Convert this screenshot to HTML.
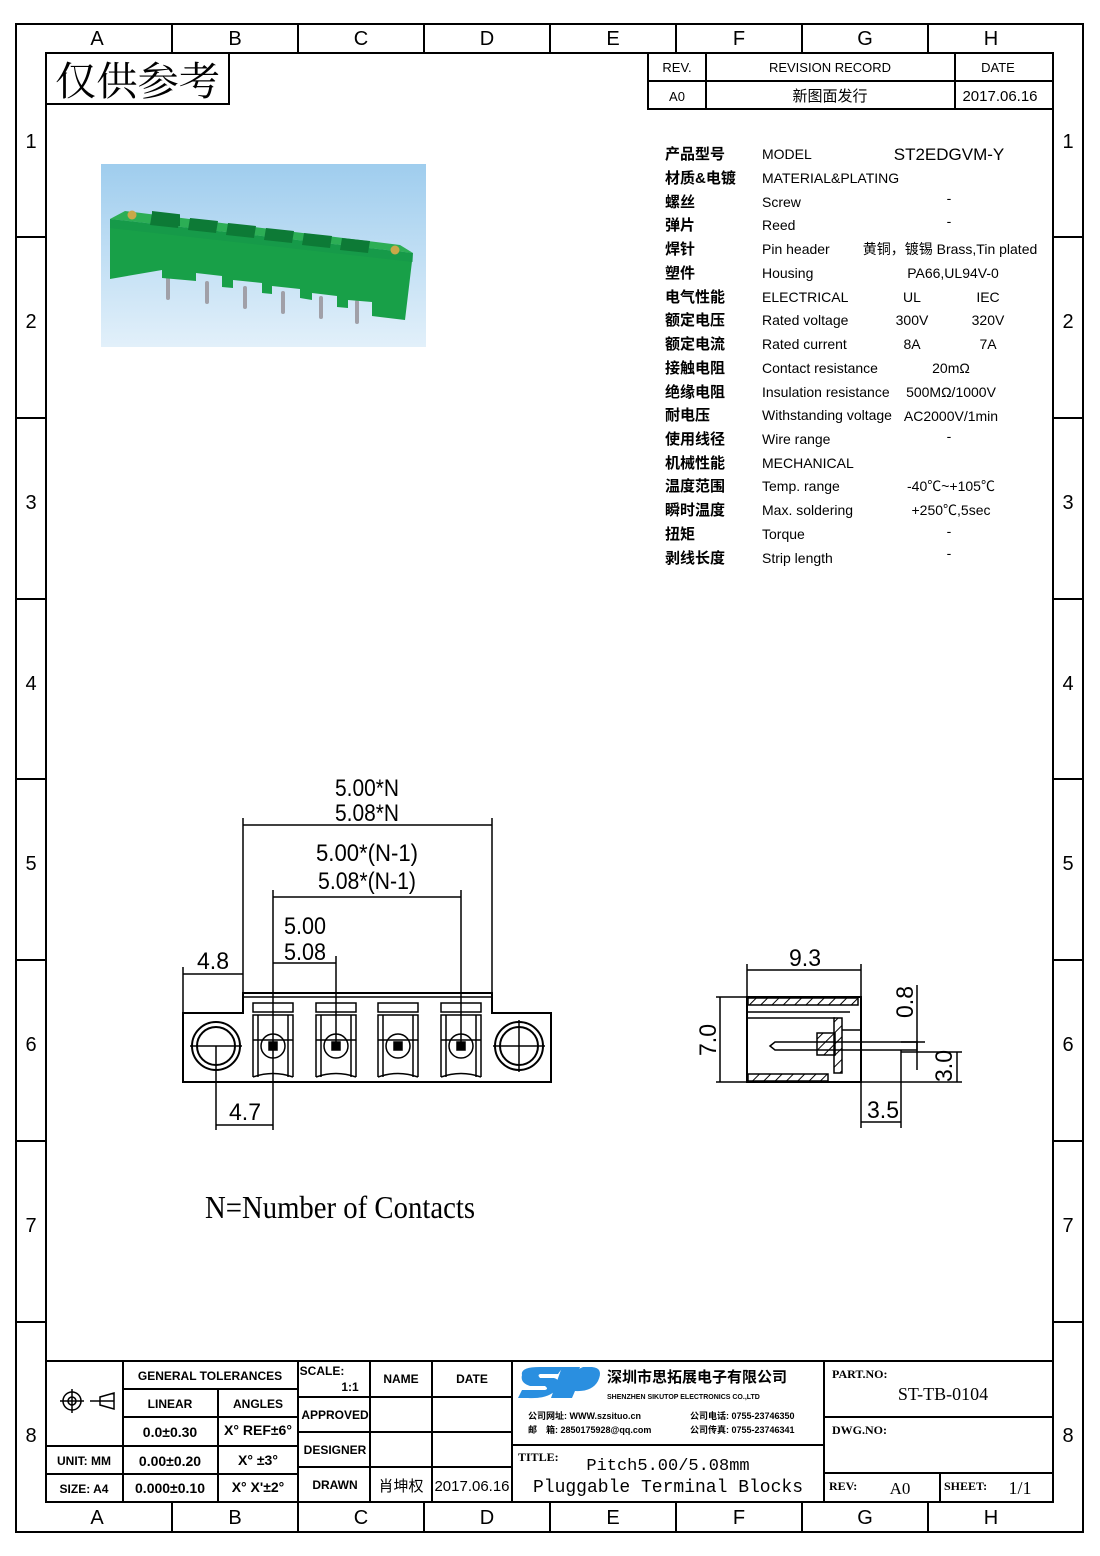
<!DOCTYPE html>
<html><head><meta charset="utf-8"><style>
html,body{margin:0;padding:0;background:#fff}
svg{display:block}
text{font-family:"Liberation Sans","Noto Sans CJK SC",sans-serif;fill:#000}
.m{font-family:"Liberation Mono","Noto Sans CJK SC",monospace}
.s{font-family:"Liberation Serif","Noto Serif CJK SC",serif}
</style></head><body>
<svg width="1100" height="1556" viewBox="0 0 1100 1556" xmlns="http://www.w3.org/2000/svg">
<defs>
<linearGradient id="bg" x1="0" y1="0" x2="0" y2="1"><stop offset="0" stop-color="#9fcdee"/><stop offset="1" stop-color="#e2f0fa"/></linearGradient>
<pattern id="hat" width="8" height="8" patternUnits="userSpaceOnUse" patternTransform="rotate(45)"><line x1="0" y1="0" x2="0" y2="8" stroke="#000" stroke-width="2"/></pattern>
</defs>
<g fill="none" stroke="#000" stroke-width="2">
<rect x="16" y="24" width="1067" height="1508"/>
<rect x="46" y="53" width="1007" height="1449"/>
</g>
<g stroke="#000" stroke-width="2">
<line x1="172" y1="24" x2="172" y2="53"/><line x1="298" y1="24" x2="298" y2="53"/><line x1="424" y1="24" x2="424" y2="53"/><line x1="550" y1="24" x2="550" y2="53"/><line x1="676" y1="24" x2="676" y2="53"/><line x1="802" y1="24" x2="802" y2="53"/><line x1="928" y1="24" x2="928" y2="53"/>
<line x1="172" y1="1502" x2="172" y2="1532"/><line x1="298" y1="1502" x2="298" y2="1532"/><line x1="424" y1="1502" x2="424" y2="1532"/><line x1="550" y1="1502" x2="550" y2="1532"/><line x1="676" y1="1502" x2="676" y2="1532"/><line x1="802" y1="1502" x2="802" y2="1532"/><line x1="928" y1="1502" x2="928" y2="1532"/>
<g id="rl"><line x1="16" y1="237" x2="46" y2="237"/><line x1="16" y1="418" x2="46" y2="418"/><line x1="16" y1="599" x2="46" y2="599"/><line x1="16" y1="779" x2="46" y2="779"/><line x1="16" y1="960" x2="46" y2="960"/><line x1="16" y1="1141" x2="46" y2="1141"/><line x1="16" y1="1322" x2="46" y2="1322"/></g>
<use href="#rl" x="1037"/>
</g>
<g font-size="20" text-anchor="middle">
<text x="97" y="45">A</text><text x="235" y="45">B</text><text x="361" y="45">C</text><text x="487" y="45">D</text><text x="613" y="45">E</text><text x="739" y="45">F</text><text x="865" y="45">G</text><text x="991" y="45">H</text>
<text x="97" y="1524">A</text><text x="235" y="1524">B</text><text x="361" y="1524">C</text><text x="487" y="1524">D</text><text x="613" y="1524">E</text><text x="739" y="1524">F</text><text x="865" y="1524">G</text><text x="991" y="1524">H</text>
<text x="31" y="148">1</text><text x="31" y="328">2</text><text x="31" y="509">3</text><text x="31" y="690">4</text><text x="31" y="870">5</text><text x="31" y="1051">6</text><text x="31" y="1232">7</text><text x="31" y="1442">8</text>
<text x="1068" y="148">1</text><text x="1068" y="328">2</text><text x="1068" y="509">3</text><text x="1068" y="690">4</text><text x="1068" y="870">5</text><text x="1068" y="1051">6</text><text x="1068" y="1232">7</text><text x="1068" y="1442">8</text>
</g>
<rect x="46" y="53" width="183" height="51" fill="none" stroke="#000" stroke-width="2"/>
<text x="55" y="95" font-size="40" class="s" textLength="165" lengthAdjust="spacingAndGlyphs">仅供参考</text>
<g fill="none" stroke="#000" stroke-width="2"><rect x="648" y="53" width="405" height="56"/><line x1="648" y1="81" x2="1053" y2="81"/><line x1="706" y1="53" x2="706" y2="109"/><line x1="955" y1="53" x2="955" y2="109"/></g>
<g font-size="13" text-anchor="middle" class="s"><text x="677" y="72">REV.</text><text x="830" y="72">REVISION RECORD</text><text x="998" y="72">DATE</text><text x="677" y="101">A0</text><text x="830" y="101" font-size="15">新图面发行</text><text x="1000" y="101" font-size="15">2017.06.16</text></g>
<!-- photo -->
<rect x="101" y="164" width="325" height="183" fill="url(#bg)"/>
<g stroke="#a0a0a8" stroke-width="4" stroke-linecap="round"><line x1="168" y1="278" x2="168" y2="298"/><line x1="207" y1="283" x2="207" y2="302"/><line x1="245" y1="288" x2="245" y2="307"/><line x1="283" y1="293" x2="283" y2="312"/><line x1="321" y1="298" x2="321" y2="317"/><line x1="357" y1="302" x2="357" y2="322"/></g>
<polygon points="125,211 400,245 413,253 110,219" fill="#2cae55"/>
<polygon points="110,219 413,253 405,320 372,316 372,302 348,300 348,308 337,307 337,296 312,293 312,300 300,298 300,289 272,286 272,294 262,293 262,283 233,280 233,288 222,287 222,276 196,273 196,281 185,280 162,278 162,270 110,279" fill="#18a048"/>
<polygon points="110,219 413,253 413,262 110,228" fill="#14934a" opacity="0.5"/>
<g fill="#0d7a36"><rect x="152" y="211" width="28" height="12" transform="skewY(6.5)" transform-origin="152 211"/></g>
<g fill="#0d7a36"><polygon points="152,213 180,216 178,228 150,225"/><polygon points="190,218 218,221 216,233 188,230"/><polygon points="228,223 256,226 254,238 226,235"/><polygon points="266,228 294,231 292,243 264,240"/><polygon points="304,233 332,236 330,248 302,245"/><polygon points="342,238 370,241 368,253 340,250"/></g>
<circle cx="132" cy="215" r="4.5" fill="#c9a848"/><circle cx="395" cy="250" r="4.5" fill="#c9a848"/>
<!-- spec table -->
<g font-size="15" class="s" font-weight="bold">
<g transform="translate(665,0)"><text y="159">产品型号</text><text y="183">材质&amp;电镀</text><text y="207">螺丝</text><text y="230">弹片</text><text y="254">焊针</text><text y="278">塑件</text><text y="302">电气性能</text><text y="325">额定电压</text><text y="349">额定电流</text><text y="373">接触电阻</text><text y="397">绝缘电阻</text><text y="420">耐电压</text><text y="444">使用线径</text><text y="468">机械性能</text><text y="491">温度范围</text><text y="515">瞬时温度</text><text y="539">扭矩</text><text y="563">剥线长度</text></g>
<g transform="translate(762,0)" font-size="14" font-weight="normal"><text y="159">MODEL</text><text y="183">MATERIAL&amp;PLATING</text><text y="207">Screw</text><text y="230">Reed</text><text y="254">Pin header</text><text y="278">Housing</text><text y="302">ELECTRICAL</text><text y="325">Rated voltage</text><text y="349">Rated current</text><text y="373">Contact resistance</text><text y="397">Insulation resistance</text><text y="420">Withstanding voltage</text><text y="444">Wire range</text><text y="468">MECHANICAL</text><text y="491">Temp. range</text><text y="515">Max. soldering</text><text y="539">Torque</text><text y="563">Strip length</text></g>
<g text-anchor="middle" font-size="14" font-weight="normal"><text x="949" y="160" font-size="17">ST2EDGVM-Y</text><text x="949" y="203">-</text><text x="949" y="226">-</text><text x="950" y="254">黄铜，镀锡 Brass,Tin plated</text><text x="953" y="278">PA66,UL94V-0</text><text x="912" y="302">UL</text><text x="988" y="302">IEC</text><text x="912" y="325">300V</text><text x="988" y="325">320V</text><text x="912" y="349">8A</text><text x="988" y="349">7A</text><text x="951" y="373">20mΩ</text><text x="951" y="397">500MΩ/1000V</text><text x="951" y="421">AC2000V/1min</text><text x="949" y="441">-</text><text x="951" y="491">-40℃~+105℃</text><text x="951" y="515">+250℃,5sec</text><text x="949" y="536">-</text><text x="949" y="558">-</text></g>
</g>
<!-- front view -->
<g fill="none" stroke="#000" stroke-width="1.5">
<line x1="243" y1="818" x2="243" y2="996"/><line x1="492" y1="818" x2="492" y2="996"/><line x1="243" y1="825" x2="492" y2="825"/>
<line x1="273" y1="890" x2="273" y2="1082"/><line x1="461" y1="890" x2="461" y2="1046"/><line x1="273" y1="897" x2="461" y2="897"/>
<line x1="336" y1="956" x2="336" y2="1046"/><line x1="273" y1="963" x2="336" y2="963"/>
<line x1="183" y1="967" x2="183" y2="1013"/><line x1="183" y1="974" x2="243" y2="974"/>
<line x1="216" y1="1046" x2="216" y2="1130"/><line x1="273" y1="1082" x2="273" y2="1130"/><line x1="216" y1="1125" x2="273" y2="1125"/>
<path d="M183 1013 H243 V993 H492 V1013 H551 V1082 H183 Z" stroke-width="2"/>
<line x1="243" y1="997" x2="492" y2="997"/>
<circle cx="216" cy="1046" r="24" stroke-width="2"/><circle cx="216" cy="1046" r="19" stroke-width="2"/><circle cx="519" cy="1046" r="24" stroke-width="2"/><circle cx="519" cy="1046" r="19" stroke-width="2"/>
<line x1="190" y1="1046" x2="242" y2="1046"/><line x1="493" y1="1046" x2="545" y2="1046"/><line x1="519" y1="1020" x2="519" y2="1072"/>
<g id="term"><rect x="253" y="1003" width="40" height="9"/><path d="M253 1077 V1015 H293 V1077 M258 1015 V1077 M288 1015 V1077 M253 1077 Q273 1070 293 1077"/><circle cx="273" cy="1046" r="12"/><rect x="269" y="1042" width="8" height="8" fill="#000"/><line x1="253" y1="1040" x2="293" y2="1040"/></g>
<use href="#term" x="63"/><use href="#term" x="125"/><use href="#term" x="188"/>
</g>
<g font-size="24" class="m" text-anchor="middle">
<text x="367" y="796" textLength="64" lengthAdjust="spacingAndGlyphs">5.00*N</text>
<text x="367" y="821" textLength="64" lengthAdjust="spacingAndGlyphs">5.08*N</text>
<text x="367" y="861" textLength="102" lengthAdjust="spacingAndGlyphs">5.00*(N-1)</text>
<text x="367" y="889" textLength="98" lengthAdjust="spacingAndGlyphs">5.08*(N-1)</text>
<text x="305" y="934" textLength="42" lengthAdjust="spacingAndGlyphs">5.00</text>
<text x="305" y="960" textLength="42" lengthAdjust="spacingAndGlyphs">5.08</text>
<text x="213" y="969" textLength="32" lengthAdjust="spacingAndGlyphs">4.8</text>
<text x="245" y="1120" textLength="32" lengthAdjust="spacingAndGlyphs">4.7</text>
<text x="805" y="966" textLength="32" lengthAdjust="spacingAndGlyphs">9.3</text>
<text x="883" y="1118" textLength="32" lengthAdjust="spacingAndGlyphs">3.5</text>
<text transform="translate(716,1040) rotate(-90)" textLength="32" lengthAdjust="spacingAndGlyphs">7.0</text>
<text transform="translate(913,1002) rotate(-90)" textLength="32" lengthAdjust="spacingAndGlyphs">0.8</text>
<text transform="translate(952,1066) rotate(-90)" textLength="32" lengthAdjust="spacingAndGlyphs">3.0</text>
</g>
<text x="205" y="1218" font-size="32" class="s" textLength="270" lengthAdjust="spacingAndGlyphs">N=Number of Contacts</text>
<!-- side view -->
<g fill="none" stroke="#000" stroke-width="1.5">
<line x1="747" y1="964" x2="747" y2="997"/><line x1="861" y1="964" x2="861" y2="1040"/><line x1="747" y1="970" x2="861" y2="970"/>
<line x1="716" y1="997" x2="747" y2="997"/><line x1="716" y1="1082" x2="747" y2="1082"/><line x1="720" y1="997" x2="720" y2="1082"/>
<rect x="747" y="997" width="114" height="85" stroke-width="2"/>
<rect x="748" y="998" width="110" height="7" fill="url(#hat)"/>
<rect x="748" y="1074" width="80" height="7" fill="url(#hat)"/>
<line x1="747" y1="1012" x2="850" y2="1012"/><line x1="747" y1="1018" x2="835" y2="1018"/>
<rect x="834" y="1018" width="8" height="55" fill="url(#hat)"/>
<rect x="817" y="1033" width="18" height="22" fill="url(#hat)"/>
<line x1="842" y1="1030" x2="861" y2="1030"/>
<path d="M770 1046 L775 1042 H917 V1050 H775 Z"/>
<line x1="861" y1="1082" x2="861" y2="1128"/><line x1="901" y1="1050" x2="901" y2="1128"/><line x1="861" y1="1122" x2="901" y2="1122"/>
<line x1="917" y1="985" x2="917" y2="1070"/><line x1="901" y1="1042" x2="925" y2="1042"/><line x1="901" y1="1052" x2="962" y2="1052"/>
<line x1="957" y1="1052" x2="957" y2="1082"/><line x1="861" y1="1082" x2="962" y2="1082"/>
</g>
<!-- title block -->
<g fill="none" stroke="#000" stroke-width="2">
<line x1="46" y1="1361" x2="1053" y2="1361"/>
<line x1="123" y1="1361" x2="123" y2="1502"/><line x1="218" y1="1389" x2="218" y2="1502"/><line x1="298" y1="1361" x2="298" y2="1502"/><line x1="370" y1="1361" x2="370" y2="1502"/><line x1="432" y1="1361" x2="432" y2="1502"/><line x1="512" y1="1361" x2="512" y2="1502"/><line x1="824" y1="1361" x2="824" y2="1502"/><line x1="940" y1="1473" x2="940" y2="1502"/>
<line x1="123" y1="1389" x2="298" y2="1389"/><line x1="123" y1="1417" x2="298" y2="1417"/><line x1="46" y1="1446" x2="298" y2="1446"/><line x1="46" y1="1474" x2="298" y2="1474"/>
<line x1="298" y1="1397" x2="512" y2="1397"/><line x1="298" y1="1432" x2="512" y2="1432"/><line x1="298" y1="1467" x2="512" y2="1467"/>
<line x1="512" y1="1445" x2="824" y2="1445"/>
<line x1="824" y1="1417" x2="1053" y2="1417"/><line x1="824" y1="1473" x2="1053" y2="1473"/>
<circle cx="72" cy="1401" r="9" stroke-width="1.5"/><circle cx="72" cy="1401" r="4" stroke-width="1.5"/><line x1="60" y1="1401" x2="84" y2="1401" stroke-width="1.5"/><line x1="72" y1="1389" x2="72" y2="1413" stroke-width="1.5"/>
<path d="M90 1401 H114 V1409 L100 1405 V1397 L114 1393 V1401" stroke-width="1.5"/>
</g>
<g font-size="12" class="s" text-anchor="middle" font-weight="bold">
<text x="210" y="1380">GENERAL TOLERANCES</text><text x="170" y="1408">LINEAR</text><text x="258" y="1408">ANGLES</text>
<text x="170" y="1437" font-size="14">0.0±0.30</text><text x="258" y="1435" font-size="14">X° REF±6°</text>
<text x="84" y="1465">UNIT: MM</text><text x="170" y="1466" font-size="14">0.00±0.20</text><text x="258" y="1465" font-size="14">X° ±3°</text>
<text x="84" y="1493">SIZE: A4</text><text x="170" y="1493" font-size="14">0.000±0.10</text><text x="258" y="1492" font-size="14">X° X'±2°</text>
<text x="322" y="1375">SCALE:</text><text x="350" y="1391">1:1</text><text x="401" y="1383">NAME</text><text x="472" y="1383">DATE</text>
<text x="335" y="1419">APPROVED</text><text x="335" y="1454">DESIGNER</text><text x="335" y="1489">DRAWN</text>
<text x="401" y="1491" font-size="15" font-weight="normal">肖坤权</text><text x="472" y="1491" font-size="15" font-weight="normal">2017.06.16</text>
</g>
<g>
<path d="M522 1375 Q520 1367 540 1367 H563 L558 1374 H540 Q537 1375 540 1378 H554 Q562 1380 556 1390 Q548 1399 528 1398 H518 L522 1390 H545 Q549 1389 545 1386 H530 Q520 1383 522 1375Z" fill="#2a8fe0"/>
<path d="M562 1367 H580 L568 1398 H551 Z" fill="#2a8fe0"/>
<path d="M583 1367 H592 Q604 1368 598 1381 Q592 1392 575 1391 L572 1398 H556 L568 1374 Z" fill="#2a8fe0"/>
<text x="607" y="1382" font-size="15" font-weight="bold">深圳市思拓展电子有限公司</text>
<text x="607" y="1399" font-size="7" font-weight="bold">SHENZHEN SIKUTOP ELECTRONICS CO.,LTD</text>
<text x="528" y="1419" font-size="9" font-weight="bold">公司网址: WWW.szsituo.cn</text><text x="528" y="1433" font-size="9" font-weight="bold">邮　箱: 2850175928@qq.com</text>
<text x="690" y="1419" font-size="9" font-weight="bold">公司电话: 0755-23746350</text><text x="690" y="1433" font-size="9" font-weight="bold">公司传真: 0755-23746341</text>
<text x="518" y="1461" font-size="12" class="s" font-weight="bold">TITLE:</text>
<text x="668" y="1470" font-size="17" class="m" text-anchor="middle">Pitch5.00/5.08mm</text>
<text x="668" y="1492" font-size="18" class="m" text-anchor="middle">Pluggable Terminal Blocks</text>
<text x="832" y="1378" font-size="12" class="s" font-weight="bold">PART.NO:</text><text x="943" y="1400" font-size="18" class="s" text-anchor="middle">ST-TB-0104</text>
<text x="832" y="1434" font-size="12" class="s" font-weight="bold">DWG.NO:</text>
<text x="829" y="1490" font-size="12" class="s" font-weight="bold">REV:</text><text x="900" y="1494" font-size="17" class="s" text-anchor="middle">A0</text>
<text x="944" y="1490" font-size="12" class="s" font-weight="bold">SHEET:</text><text x="1020" y="1494" font-size="18" class="s" text-anchor="middle">1/1</text>
</g>
</svg>
</body></html>
